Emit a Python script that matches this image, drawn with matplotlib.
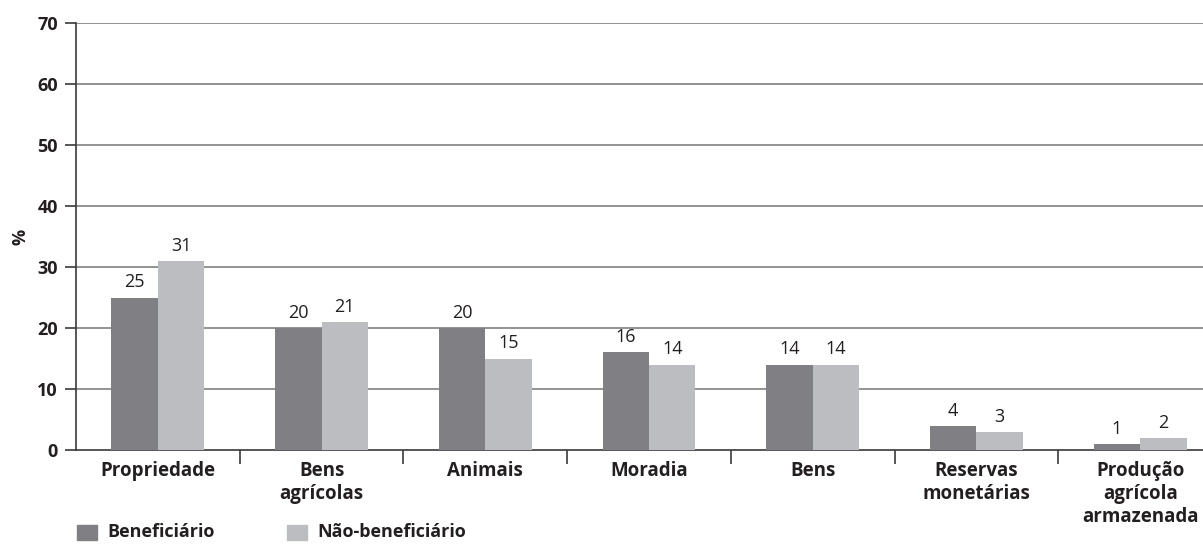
import matplotlib
matplotlib.use("Agg")
import matplotlib.pyplot as plt
from matplotlib.patches import Rectangle
import numpy as np

categories = ["Propriedade", "Bens\nagrícolas", "Animais", "Moradia", "Bens",
              "Reservas\nmonetárias", "Produção\nagrícola\narmazenada"]
beneficiario = [25, 20, 20, 16, 14, 4, 1]
nao_beneficiario = [31, 21, 15, 14, 14, 3, 2]
series_names = ["Beneficiário", "Não-beneficiário"]
yticks = [0, 10, 20, 30, 40, 50, 60, 70]

dark = "#7f7f84"
light = "#bcbdc1"
txt = "#231f20"
plt.rcParams["font.family"] = ["Open Sans", "DejaVu Sans"]

W, H = 1203, 545
fig = plt.figure(figsize=(W / 100, H / 100), dpi=100)
left, right, top, bottom = 76, 1222, 23, 450
ax = fig.add_axes([left / W, 1 - bottom / H, (right - left) / W, (bottom - top) / H])

x = np.arange(len(categories))
bw = 0.284
ax.bar(x - bw / 2, beneficiario, bw, color=dark, zorder=3)
ax.bar(x + bw / 2, nao_beneficiario, bw, color=light, zorder=3)

for xi, v in zip(x - bw / 2, beneficiario):
    ax.text(xi, v + 1.0, f"{v}", ha="center", va="bottom", fontsize=13, color=txt)
for xi, v in zip(x + bw / 2, nao_beneficiario):
    ax.text(xi, v + 1.0, f"{v}", ha="center", va="bottom", fontsize=13, color=txt)

ax.set_xlim(-0.5, len(categories) - 0.5)
ax.set_ylim(0, 70)
ax.set_yticks(yticks)
ax.set_yticklabels([str(t) for t in yticks], fontsize=13, fontweight="bold", color=txt)
for t in yticks[1:]:
    ax.axhline(t, color="#808080", lw=1.2, zorder=1)

ax.set_xticks(np.arange(len(categories) - 1) + 0.5)
ax.set_xticklabels([])
ax.tick_params(axis="x", direction="out", length=10, width=1.2, color="#3a3a3a")
ax.tick_params(axis="y", direction="out", length=8, width=1.2, color="#3a3a3a", pad=5)
for xi, c in zip(x, categories):
    ax.text(xi, -1.8, c, ha="center", va="top", fontsize=13.5, fontweight="bold",
            color=txt, transform=ax.transData, linespacing=1.2)

for s in ["top", "right"]:
    ax.spines[s].set_visible(False)
ax.spines["left"].set_color("#3a3a3a")
ax.spines["bottom"].set_color("#3a3a3a")
ax.spines["left"].set_linewidth(1.2)
ax.spines["bottom"].set_linewidth(1.2)

fig.text(20 / W, 1 - 237 / H, "%", rotation=90, ha="center", va="center",
         fontsize=13, fontweight="bold", color=txt)

# legend
for (sx, name, col) in [(77, series_names[0], dark), (287, series_names[1], light)]:
    fig.patches.append(Rectangle((sx / W, 1 - 540 / H), 20 / W, 15 / H,
                                 transform=fig.transFigure, color=col))
    fig.text((sx + 30) / W, 1 - 532 / H, name, ha="left", va="center",
             fontsize=13, fontweight="bold", color=txt)

fig.savefig("out.png", dpi=100)
